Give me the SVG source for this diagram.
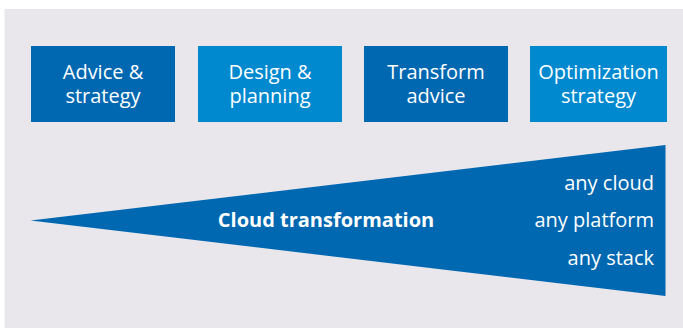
<svg xmlns="http://www.w3.org/2000/svg" width="683" height="331" viewBox="0 0 683 331">
<style>
.dark{fill:#0067b1}
.light{fill:#0089cf}
.t{font-family:"Open Sans","Noto Sans","Liberation Sans",sans-serif;font-size:20px;fill:#ffffff;text-anchor:middle}
.r{font-family:"Open Sans","Noto Sans","Liberation Sans",sans-serif;font-size:20px;fill:#ffffff;text-anchor:end}
.b{font-family:"Open Sans","Noto Sans","Liberation Sans",sans-serif;font-size:20px;font-weight:bold;fill:#ffffff;text-anchor:middle}
</style>
<rect x="0" y="0" width="683" height="331" fill="#ffffff"/>
<rect x="4.5" y="9" width="678.5" height="319" fill="#e9e7ec"/>
<g id="node-advice">
<rect class="dark" x="31" y="46" width="144" height="76"/>
<text class="t" x="103" y="79">Advice &amp;</text>
<text class="t" x="103" y="103">strategy</text>
</g>
<g id="node-design">
<rect class="light" x="198" y="46" width="144" height="76"/>
<text class="t" x="270" y="79">Design &amp;</text>
<text class="t" x="270" y="103">planning</text>
</g>
<g id="node-transform">
<rect class="dark" x="364" y="46" width="144" height="76"/>
<text class="t" x="436" y="79">Transform</text>
<text class="t" x="436" y="103">advice</text>
</g>
<g id="node-optimization">
<rect class="light" x="530" y="46" width="137" height="76"/>
<text class="t" x="598.5" y="79">Optimization</text>
<text class="t" x="598.5" y="103">strategy</text>
</g>
<g id="connectors"></g>
<g id="node-cloud">
<polygon class="dark" points="30.5,220.5 665.5,145 665.5,296"/>
<text class="b" x="326" y="227">Cloud transformation</text>
<text class="r" x="654" y="190">any cloud</text>
<text class="r" x="654" y="227">any platform</text>
<text class="r" x="654" y="265">any stack</text>
</g>
</svg>
